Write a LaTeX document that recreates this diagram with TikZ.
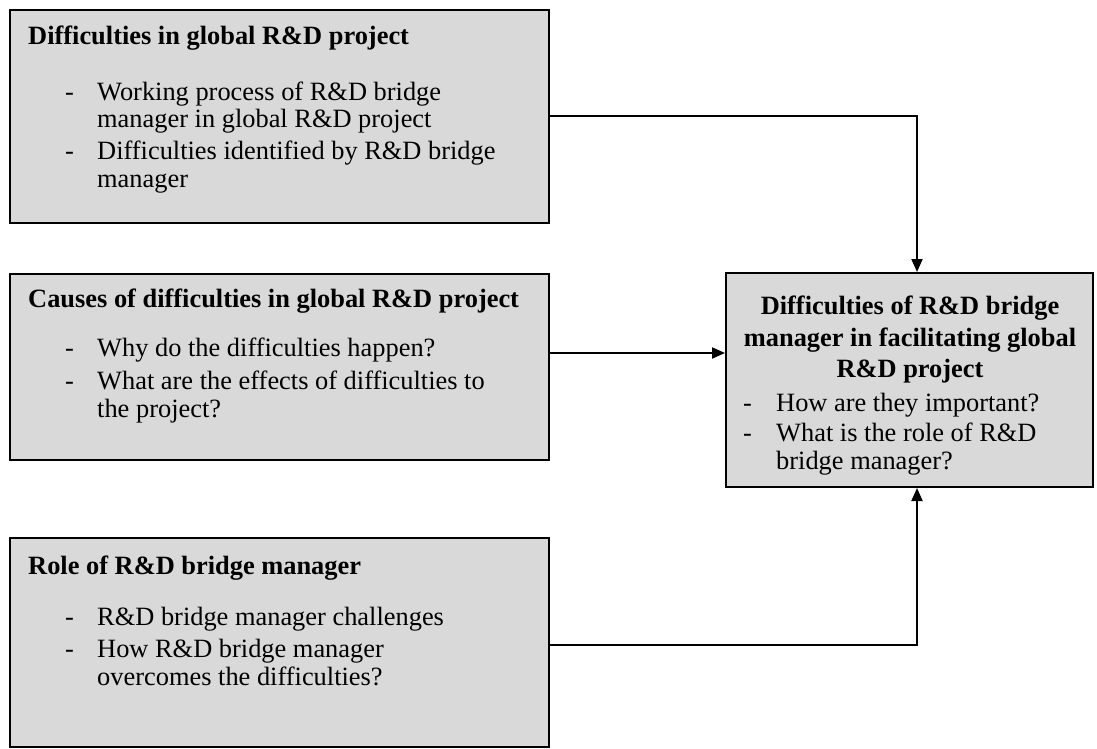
\documentclass[tikz,border=0pt]{standalone}
\usepackage{fontspec}
\setmainfont{Liberation Serif}
\usetikzlibrary{arrows.meta}
\begin{document}
\begin{tikzpicture}[x=1pt,y=-1pt,
  box/.style={draw=black, line width=2pt, fill=boxgray, inner sep=0pt},
  head/.style={anchor=base west, inner sep=0pt, font=\fontsize{26.4}{30}\selectfont\bfseries},
  hubhead/.style={anchor=base, inner sep=0pt, font=\fontsize{26.4}{30}\selectfont\bfseries},
  item/.style={anchor=base west, inner sep=0pt, font=\fontsize{26.4}{30}\selectfont},
  dashmark/.style={anchor=base west, inner sep=0pt, font=\fontsize{26.4}{30}\selectfont},
  link/.style={draw=black, line width=2pt, -{Triangle[width=11pt,length=13pt]}}]
\definecolor{boxgray}{HTML}{D9D9D9}
\useasboundingbox (0,0) rectangle (1097,749);

% boxes
\node[box, minimum width=539pt, minimum height=213pt] (b1) at (279.5,116.5) {};
\node[box, minimum width=539pt, minimum height=186pt] (b2) at (279.5,367) {};
\node[box, minimum width=539pt, minimum height=209pt] (b3) at (279.5,642.5) {};
\node[box, minimum width=367pt, minimum height=214pt] (hub) at (909.5,380) {};

% first box text
\node[head] (t1) at (28,45) {Difficulties in global R\&D project};
\node[dashmark] (d11) at (65,101) {-};
\node[item] (l11) at (97,101) {Working process of R\&D bridge};
\node[item] (l12) at (97,128) {manager in global R\&D project};
\node[dashmark] (d12) at (65,160) {-};
\node[item] (l13) at (97,160) {Difficulties identified by R\&D bridge};
\node[item] (l14) at (97,187) {manager};

% second box text
\node[head] (t2) at (28,307) {Causes of difficulties in global R\&D project};
\node[dashmark] (d21) at (65,356) {-};
\node[item] (l21) at (97,356) {Why do the difficulties happen?};
\node[dashmark] (d22) at (65,389) {-};
\node[item] (l22) at (97,389) {What are the effects of difficulties to};
\node[item] (l23) at (97,417) {the project?};

% third box text
\node[head] (t3) at (28,574) {Role of R\&D bridge manager};
\node[dashmark] (d31) at (65,625) {-};
\node[item] (l31) at (97,625) {R\&D bridge manager challenges};
\node[dashmark] (d32) at (65,657) {-};
\node[item] (l32) at (97,657) {How R\&D bridge manager};
\node[item] (l33) at (97,685) {overcomes the difficulties?};

% central box text
\node[hubhead] (h1) at (910,314) {Difficulties of R\&D bridge};
\node[hubhead] (h2) at (910,346) {manager in facilitating global};
\node[hubhead] (h3) at (910,377) {R\&D project};
\node[dashmark] (hd1) at (743,411) {-};
\node[item] (hl1) at (776,411) {How are they important?};
\node[dashmark] (hd2) at (743,441) {-};
\node[item] (hl2) at (776,441) {What is the role of R\&D};
\node[item] (hl3) at (776,469) {bridge manager?};

% connectors
\draw[link] (b1.east) -| ([xshift=7.5pt]hub.north);
\path ([yshift=14pt]b2.east) coordinate (m2);
\draw[link] (m2) -- (m2 -| hub.west);
\draw[link] ([yshift=-2.5pt]b3.east) -| ([xshift=7.5pt]hub.south);
\end{tikzpicture}
\end{document}
